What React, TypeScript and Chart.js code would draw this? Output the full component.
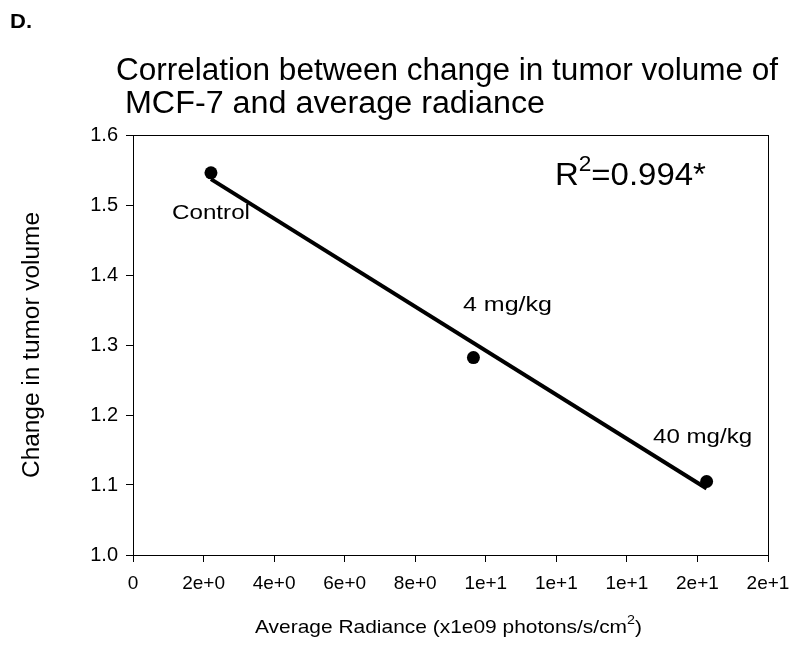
import React, { useEffect, useRef } from "react";
import { Chart, registerables } from "chart.js";

Chart.register(...registerables);

// ---- data ----
const categories = ["Control", "4 mg/kg", "40 mg/kg"];
const radiance = [2.21, 9.65, 16.26];
const tumorChange = [1.546, 1.282, 1.105];
const fitX = [2.21, 16.26];
const fitY = [1.537, 1.095];
const xTickLabels = ["0", "2e+0", "4e+0", "6e+0", "8e+0", "1e+1", "1e+1", "1e+1", "2e+1", "2e+1"];
const yTickLabels = ["1.0", "1.1", "1.2", "1.3", "1.4", "1.5", "1.6"];
const rSquaredText = "=0.994*";
const panelLabel = "D.";
const titleLines = ["Correlation between change in tumor volume of", " MCF-7 and average radiance"];
const yTitle = "Change in tumor volume";
const xTitleMain = "Average Radiance (x1e09 photons/s/cm";

const FONT = "'Liberation Sans', Arial, Helvetica, sans-serif";

function drawFit(ctx: CanvasRenderingContext2D, text: string, x: number, y: number, w: number, font: string, align: "left" | "center" = "left") {
  ctx.save();
  ctx.font = font;
  const m = ctx.measureText(text).width;
  const sx = w / m;
  ctx.translate(align === "left" ? x : x - w / 2, y);
  ctx.scale(sx, 1);
  ctx.textAlign = "left";
  ctx.fillText(text, 0, 0);
  ctx.restore();
}

const textPlugin = {
  id: "textPlugin",
  afterDraw(chart: any) {
    const ctx: CanvasRenderingContext2D = chart.ctx;
    const { left, top, right, bottom } = chart.chartArea;
    const xs = chart.scales.x;
    const ys = chart.scales.y;
    ctx.save();
    ctx.strokeStyle = "#000";
    ctx.lineWidth = 1;
    ctx.strokeRect(left + 0.5, top + 0.5, right - left, bottom - top);
    ctx.fillStyle = "#000";
    ctx.textBaseline = "alphabetic";

    drawFit(ctx, panelLabel, 10, 28, 22, `bold 21px ${FONT}`);
    drawFit(ctx, titleLines[0], 116, 80, 662, `31px ${FONT}`);
    drawFit(ctx, titleLines[1], 116, 113, 429, `31px ${FONT}`);

    // y title
    ctx.save();
    ctx.translate(33, 345);
    ctx.rotate(-Math.PI / 2);
    ctx.textBaseline = "middle";
    drawFit(ctx, yTitle, 0, 0, 266, `23px ${FONT}`, "center");
    ctx.restore();

    // x title with superscript
    {
      const f1 = `19px ${FONT}`;
      const f2 = `13px ${FONT}`;
      ctx.font = f1;
      const w1 = ctx.measureText(xTitleMain).width;
      const w3 = ctx.measureText(")").width;
      ctx.font = f2;
      const w2 = ctx.measureText("2").width;
      const total = w1 + w2 + w3;
      const sx = (642 - 255) / total;
      ctx.save();
      ctx.translate(255, 633);
      ctx.scale(sx, 1);
      ctx.font = f1;
      ctx.fillText(xTitleMain, 0, 0);
      ctx.font = f2;
      ctx.fillText("2", w1, -9);
      ctx.font = f1;
      ctx.fillText(")", w1 + w2, 0);
      ctx.restore();
    }

    // annotations
    const px = radiance.map((v) => xs.getPixelForValue(v));
    const py = tumorChange.map((v) => ys.getPixelForValue(v));
    ctx.textBaseline = "middle";
    drawFit(ctx, categories[0], px[0] + 0, py[0] + 40, 78, `21px ${FONT}`, "center");
    drawFit(ctx, categories[1], px[1] + 34, py[1] - 52, 89, `21px ${FONT}`, "center");
    drawFit(ctx, categories[2], px[2] - 4, py[2] - 44, 99, `21px ${FONT}`, "center");

    // R^2
    ctx.textBaseline = "alphabetic";
    {
      const fR = `32px ${FONT}`;
      const fS = `22px ${FONT}`;
      ctx.font = fR;
      const wR = ctx.measureText("R").width;
      const wE = ctx.measureText(rSquaredText).width;
      ctx.font = fS;
      const wS = ctx.measureText("2").width;
      const total = wR + wS + wE;
      const sx = 151 / total;
      const rx = xs.getPixelForValue(11.96);
      const ry = ys.getPixelForValue(1.529);
      ctx.save();
      ctx.translate(rx, ry);
      ctx.scale(sx, 1);
      ctx.font = fR;
      ctx.fillText("R", 0, 0);
      ctx.font = fS;
      ctx.fillText("2", wR, -14);
      ctx.font = fR;
      ctx.fillText(rSquaredText, wR + wS, 0);
      ctx.restore();
    }
    ctx.restore();
  },
};

export default function App() {
  const ref = useRef<HTMLCanvasElement>(null);
  useEffect(() => {
    if (!ref.current) return;
    const chart = new Chart(ref.current, {
      type: "scatter",
      data: {
        datasets: [
          {
            label: "points",
            data: radiance.map((x, i) => ({ x, y: tumorChange[i] })),
            pointRadius: 6.5,
            pointBackgroundColor: "#000",
            pointBorderColor: "#000",
            pointBorderWidth: 0,
            showLine: false,
          },
          {
            label: "fit",
            data: fitX.map((x, i) => ({ x, y: fitY[i] })),
            showLine: true,
            borderColor: "#000",
            borderWidth: 4,
            pointRadius: 0,
            fill: false,
          },
        ],
      },
      options: {
        animation: false,
        responsive: false,
        devicePixelRatio: 1,
        layout: { padding: { left: 0, top: 135, right: 32, bottom: 0 } },
        plugins: { legend: { display: false }, tooltip: { enabled: false }, title: { display: false } },
        scales: {
          x: {
            type: "linear",
            min: 0,
            max: 18,
            afterFit: (s: any) => { s.height = 91; },
            grid: { display: true, drawOnChartArea: false, drawTicks: true, tickLength: 7, color: "#000", lineWidth: 1 },
            border: { display: true, color: "#000", width: 1 },
            ticks: {
              stepSize: 2,
              autoSkip: false,
              maxRotation: 0,
              padding: 10,
              color: "#000",
              font: { family: FONT, size: 19 },
              callback: (_v: any, i: number) => xTickLabels[i],
            },
          },
          y: {
            type: "linear",
            min: 1.0,
            max: 1.6,
            afterFit: (s: any) => { s.width = 133; },
            grid: { display: true, drawOnChartArea: false, drawTicks: true, tickLength: 7, color: "#000", lineWidth: 1 },
            border: { display: true, color: "#000", width: 1 },
            ticks: {
              stepSize: 0.1,
              autoSkip: false,
              padding: 8,
              color: "#000",
              font: { family: FONT, size: 20 },
              callback: (_v: any, i: number) => yTickLabels[i],
            },
          },
        },
      },
      plugins: [textPlugin],
    } as any);
    return () => chart.destroy();
  }, []);
  return (
    <div style={{ position: "absolute", left: 0, top: 0, width: 800, height: 646, background: "#fff" }}>
      <canvas ref={ref} width={800} height={646} style={{ display: "block" }} />
    </div>
  );
}
